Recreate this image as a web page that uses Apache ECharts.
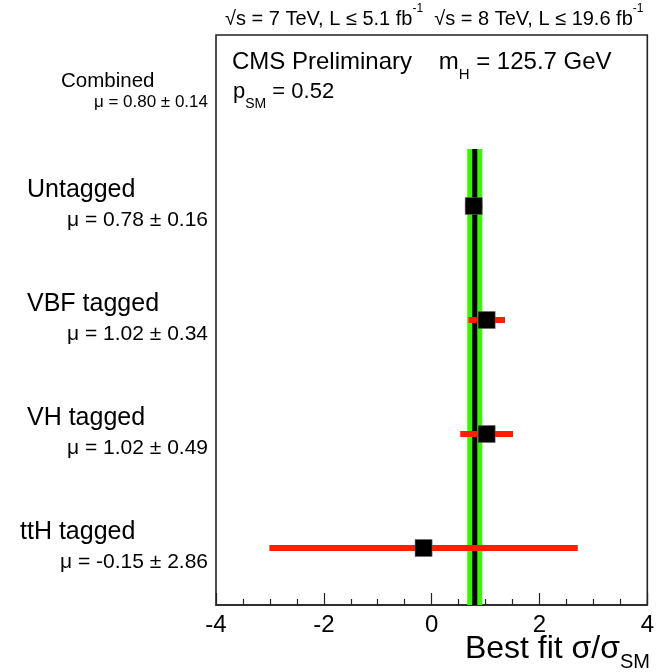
<!DOCTYPE html>
<html>
<head>
<meta charset="utf-8">
<script src="https://cdn.jsdelivr.net/npm/echarts@6/dist/echarts.min.js"></script>
<style>
  html, body { margin: 0; padding: 0; background: #fff; }
  #chart { width: 657px; height: 672px; }
</style>
</head>
<body>
<div id="chart"></div>
<script>
// Signal strength per event category (bottom to top)
const channels = ['ttH tagged', 'VH tagged', 'VBF tagged', 'Untagged'];
const muValues = [-0.15, 1.02, 1.02, 0.78];
const muErrors = [2.86, 0.49, 0.34, 0.16];

// Combined fit
const combinedName = 'Combined';
const combinedMu = 0.80;
const combinedErr = 0.14;

// Axis range
const xMin = -4;
const xMax = 4;
const xStep = 2;

const categories = channels.concat([combinedName]);
const FONT = '"Liberation Sans", Arial, Helvetica, sans-serif';

function muText(v, e) {
  return 'μ = ' + v.toFixed(2) + ' ± ' + e.toFixed(2);
}

const chart = echarts.init(document.getElementById('chart'), null, { renderer: 'canvas' });

const barData = channels.map((c, i) => [muValues[i], i, muErrors[i]]);
const pointData = channels.map((c, i) => [muValues[i], i]);

const option = {
  animation: false,
  backgroundColor: '#fff',
  grid: {
    left: 216, right: 7, top: 35, bottom: 67,
    show: true, borderColor: '#222', borderWidth: 1.6, backgroundColor: 'transparent'
  },
  xAxis: {
    type: 'value', min: xMin, max: xMax, interval: xStep,
    axisLine: { show: true, lineStyle: { color: '#222', width: 1.6 } },
    axisTick: { show: true, inside: true, length: 12, lineStyle: { color: '#222', width: 1.2 } },
    minorTick: { show: true, splitNumber: 4, length: 6, lineStyle: { color: '#222', width: 1.2 } },
    splitLine: { show: false },
    axisLabel: { fontFamily: FONT, fontSize: 24, color: '#000', margin: 8 }
  },
  yAxis: {
    type: 'category', data: categories, boundaryGap: true,
    axisLine: { show: false }, axisTick: { show: false }, splitLine: { show: false },
    axisLabel: {
      margin: 8,
      width: 188,
      align: 'right',
      formatter: function (val, idx) {
        if (val === combinedName) {
          return '{cn|' + val + '}\n{cm|' + muText(combinedMu, combinedErr) + '}';
        }
        const nameStyle = idx === 0 ? 'n0' : 'n';
        return '{' + nameStyle + '|' + val + '}\n{m|' + muText(muValues[idx], muErrors[idx]) + '}';
      },
      rich: {
        n:  { fontFamily: FONT, fontSize: 25, color: '#000', align: 'left', lineHeight: 29, padding: [0, 0, 0, 7] },
        n0: { fontFamily: FONT, fontSize: 25, color: '#000', align: 'left', lineHeight: 29 },
        m:  { fontFamily: FONT, fontSize: 21, color: '#000', align: 'right', lineHeight: 31 },
        cn: { fontFamily: FONT, fontSize: 20.5, color: '#000', align: 'left', lineHeight: 20, padding: [0, 0, 0, 41] },
        cm: { fontFamily: FONT, fontSize: 17, color: '#000', align: 'right', lineHeight: 21 }
      }
    }
  },
  series: [
    {
      // combined band: green uncertainty with black central line
      type: 'custom',
      data: [[combinedMu, combinedErr]],
      encode: { x: 0 },
      z: 1,
      renderItem: function (params, api) {
        const mu = api.value(0), err = api.value(1);
        const topIdx = channels.length - 1;
        const lo = api.coord([mu - err, topIdx]);
        const hi = api.coord([mu + err, topIdx]);
        const mid = api.coord([mu, topIdx]);
        const band = api.size([0, 1])[1];
        const top = lo[1] - band / 2;
        const bottom = params.coordSys.y + params.coordSys.height;
        return {
          type: 'group',
          children: [
            { type: 'rect', shape: { x: lo[0], y: top, width: hi[0] - lo[0], height: bottom - top },
              style: { fill: '#3ef20c' } },
            { type: 'rect', shape: { x: mid[0] - 2.5, y: top, width: 5, height: bottom - top },
              style: { fill: '#000' } }
          ]
        };
      }
    },
    {
      // per-category uncertainty bars
      type: 'custom',
      data: barData,
      encode: { x: 0, y: 1 },
      z: 2,
      renderItem: function (params, api) {
        const mu = api.value(0), idx = api.value(1), err = api.value(2);
        const a = api.coord([mu - err, idx]);
        const b = api.coord([mu + err, idx]);
        return { type: 'rect', shape: { x: a[0], y: a[1] - 3, width: b[0] - a[0], height: 6 },
                 style: { fill: '#ff1e00' } };
      }
    },
    {
      type: 'scatter',
      data: pointData,
      symbol: 'rect',
      symbolSize: 17,
      z: 3,
      itemStyle: { color: '#000', borderColor: '#666', borderWidth: 0.6, opacity: 1 }
    }
  ],
  graphic: [
    {
      type: 'text', left: 225, top: 3,
      style: {
        text: '{t|√s = 7 TeV, L ≤ 5.1 fb}{s|-1}{t|  √s = 8 TeV, L ≤ 19.6 fb}{s|-1}',
        rich: {
          t: { fontFamily: FONT, fontSize: 20, fill: '#000', lineHeight: 26, verticalAlign: 'bottom' },
          s: { fontFamily: FONT, fontSize: 12, fill: '#000', lineHeight: 26, verticalAlign: 'top' }
        }
      }
    },
    {
      type: 'text', left: 232, top: 50,
      style: {
        text: '{t|CMS Preliminary    m}{b|H}{t| = 125.7 GeV}',
        rich: {
          t: { fontFamily: FONT, fontSize: 24, fill: '#000', lineHeight: 34, verticalAlign: 'top' },
          b: { fontFamily: FONT, fontSize: 15, fill: '#000', lineHeight: 34, verticalAlign: 'bottom', padding: [0, 0, 2, 0] }
        }
      }
    },
    {
      type: 'text', left: 233, top: 81,
      style: {
        text: '{t|p}{b|SM}{t| = 0.52}',
        rich: {
          t: { fontFamily: FONT, fontSize: 22, fill: '#000', lineHeight: 31, verticalAlign: 'top' },
          b: { fontFamily: FONT, fontSize: 14, fill: '#000', lineHeight: 31, verticalAlign: 'bottom', padding: [0, 0, 1, 0] }
        }
      }
    },
    {
      type: 'text', right: 7, top: 633,
      style: {
        text: '{t|Best fit σ/σ}{b|SM}',
        rich: {
          t: { fontFamily: FONT, fontSize: 32, fill: '#000', lineHeight: 36, verticalAlign: 'top' },
          b: { fontFamily: FONT, fontSize: 20, fill: '#000', lineHeight: 36, verticalAlign: 'bottom', padding: [0, 0, -3, 0] }
        }
      }
    }
  ]
};

chart.setOption(option);
</script>
</body>
</html>
